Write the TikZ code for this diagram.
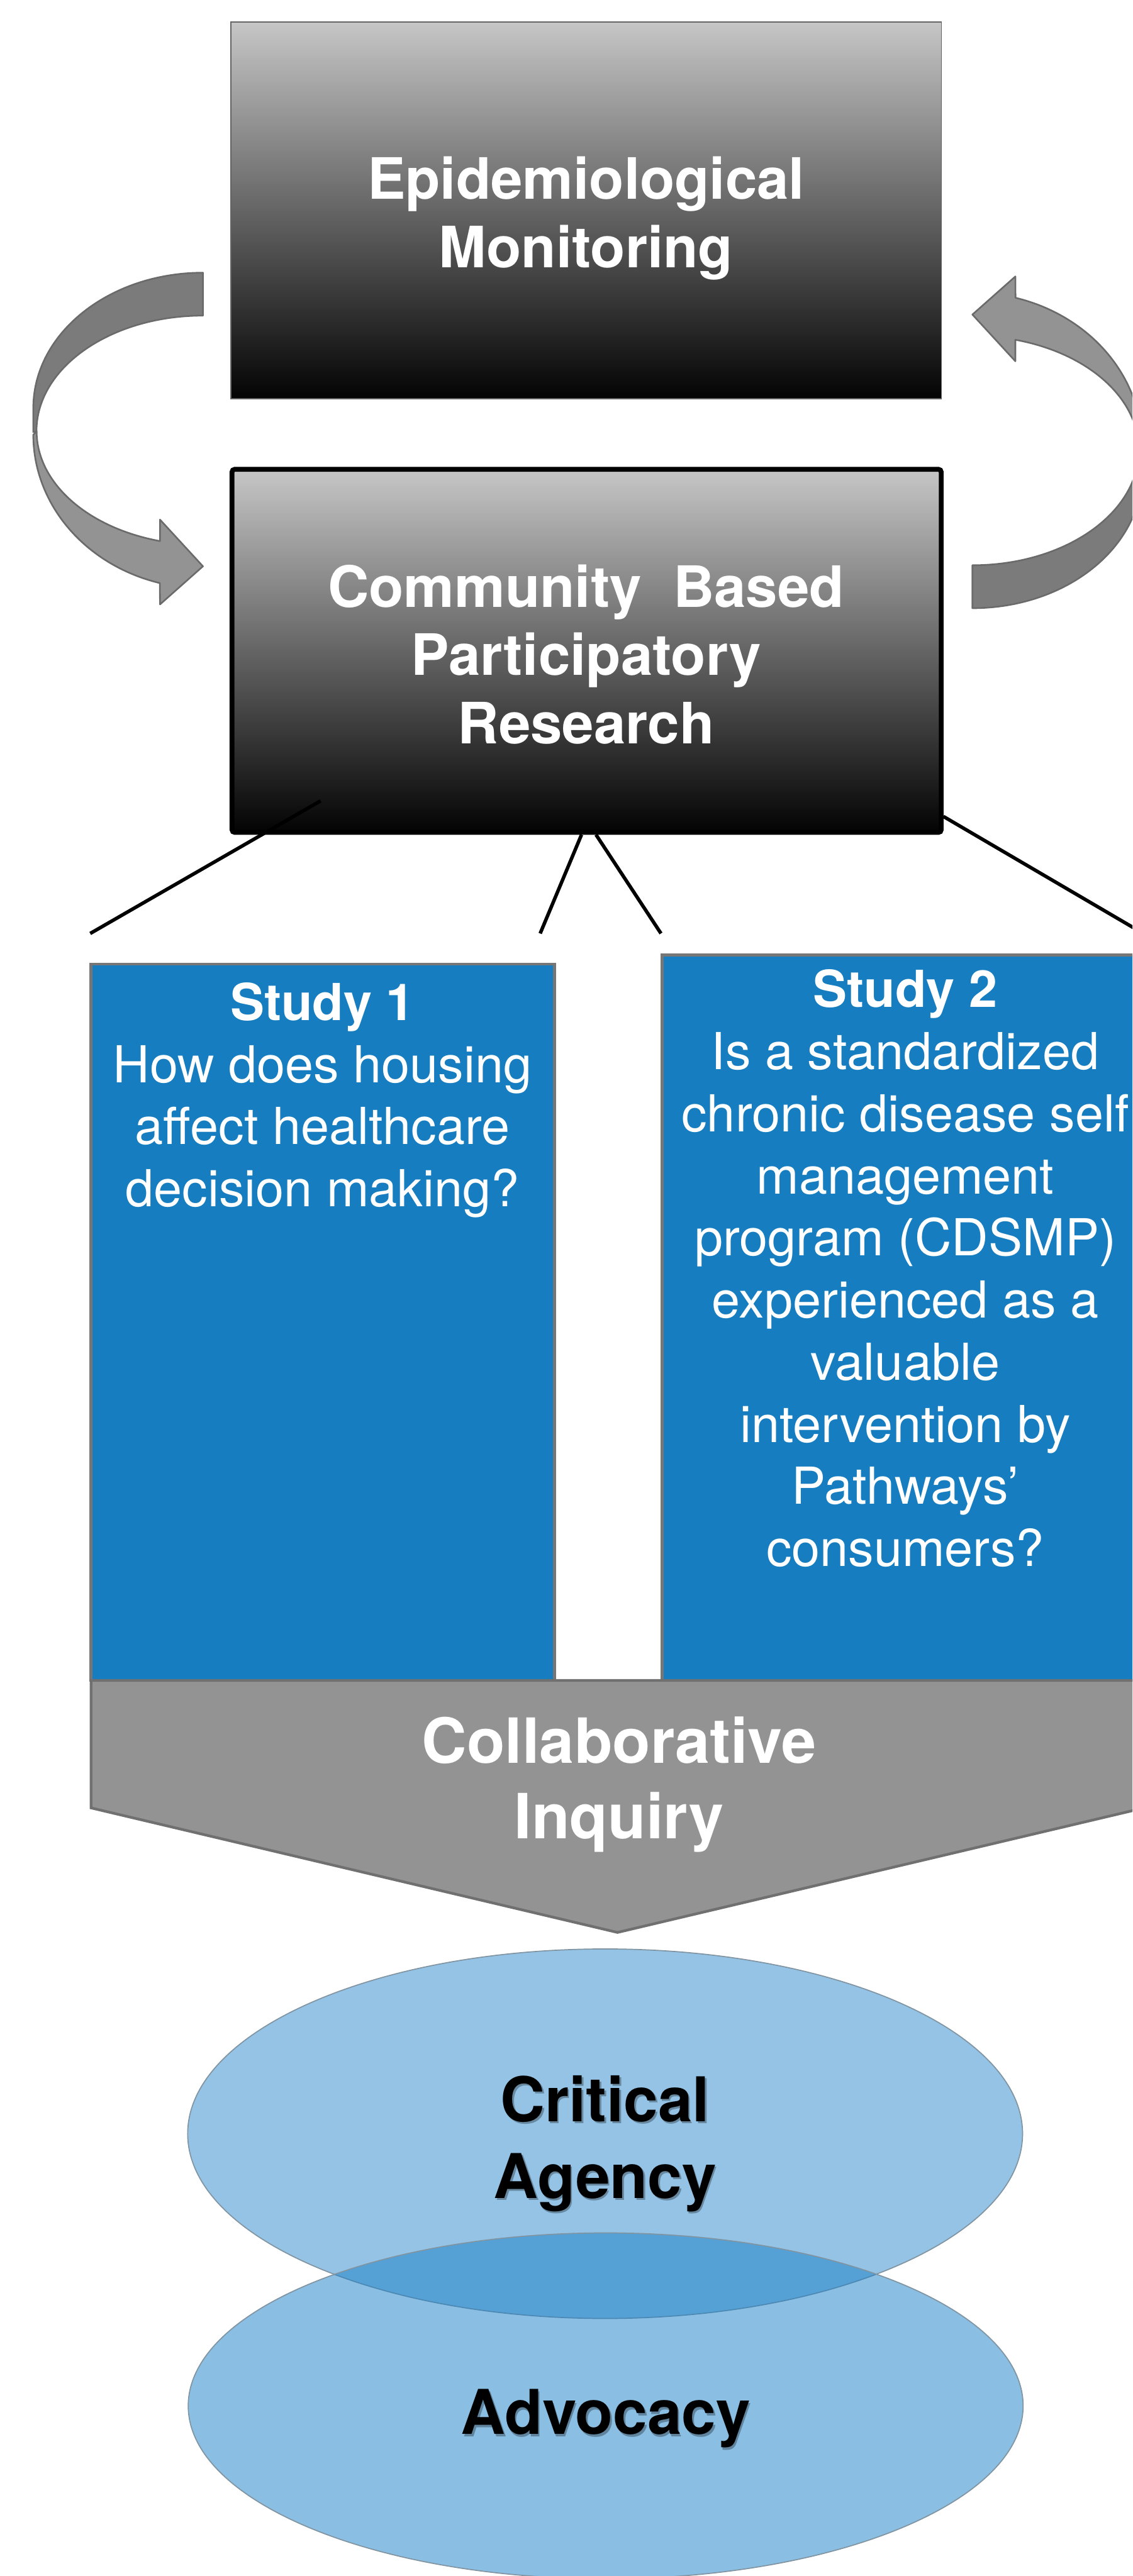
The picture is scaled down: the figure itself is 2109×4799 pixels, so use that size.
\documentclass[tikz,border=0pt]{standalone}
\usepackage{fontspec}
\setmainfont{TeX Gyre Heros}
\usetikzlibrary{shapes.geometric}

\definecolor{boxtop}{RGB}{198,198,198}
\definecolor{boxbot}{RGB}{3,3,3}
\definecolor{boxedge}{RGB}{100,100,100}
\definecolor{studyblue}{RGB}{22,126,192}
\definecolor{studyedge}{RGB}{118,118,118}
\definecolor{chevfill}{RGB}{147,147,147}
\definecolor{chevedge}{RGB}{112,112,112}
\definecolor{arrowdark}{RGB}{123,123,123}
\definecolor{arrowlight}{RGB}{147,147,147}
\definecolor{arrowedge}{RGB}{106,106,106}
\definecolor{ovaltop}{RGB}{43,137,205}
\definecolor{ovalbot}{RGB}{23,127,199}
\definecolor{ovaledge}{RGB}{128,148,162}

\begin{document}
\begin{tikzpicture}[x=0.01cm, y=-0.01cm,
  epibox/.style={draw=boxedge, line width=0.02cm, top color=boxtop, bottom color=boxbot, inner sep=0},
  cbprbox/.style={draw=black, line width=0.09cm, rounded corners=0.05cm, top color=boxtop, bottom color=boxbot, inner sep=0},
  studybox/.style={fill=studyblue, draw=studyedge, line width=0.05cm, inner sep=0},
  chevron/.style={fill=chevfill, draw=chevedge, line width=0.05cm, line join=miter},
  fork/.style={draw=black, line width=0.065cm},
  oval/.style={ellipse, draw=ovaledge, line width=0.02cm, inner sep=0},
  banddark/.style={fill=arrowdark, draw=arrowedge, line width=0.03cm, line join=round},
  bandlight/.style={fill=arrowlight, draw=arrowedge, line width=0.03cm, line join=round},
  titletext/.style={text=white, font=\fontsize{30.2pt}{36.1pt}\selectfont\bfseries, align=center, anchor=base, inner sep=0},
  studytext/.style={text=white, font=\fontsize{27pt}{32.9pt}\selectfont, align=center, anchor=base, inner sep=0},
  chevtext/.style={text=white, font=\fontsize{33pt}{39.8pt}\selectfont\bfseries, align=center, anchor=base, inner sep=0},
  ovaltext/.style={text=black, font=\fontsize{32.7pt}{40.7pt}\selectfont\bfseries, align=center, anchor=base, inner sep=0},
  ovalshadow/.style={ovaltext, text=black, text opacity=0.3}
]
\useasboundingbox (0,0) rectangle (2109,4799);
\fill[white] (0,0) rectangle (2109,4799);
\clip (0,0) rectangle (2109,4799);

% curved arrow on the left: back band, then front band with head
\draw[banddark] (378,508) arc[start angle=270, end angle=180, x radius=316, y radius=252]
  -- (62,805) -- (68,803) arc[start angle=180, end angle=270, x radius=310, y radius=215] -- cycle;
\draw[bandlight] (62,810) arc[start angle=180, end angle=105, x radius=318, y radius=286]
  -- (298,1126) -- (378,1055) -- (298,968) -- (298,1008)
  arc[start angle=105, end angle=180, x radius=310, y radius=212] -- cycle;

% the same arrow turned half way round on the right
\begin{scope}[rotate around={180:(1094.5,820.5)}]
\draw[banddark] (378,508) arc[start angle=270, end angle=180, x radius=316, y radius=252]
  -- (62,805) -- (68,803) arc[start angle=180, end angle=270, x radius=310, y radius=215] -- cycle;
\draw[bandlight] (62,810) arc[start angle=180, end angle=105, x radius=318, y radius=286]
  -- (298,1126) -- (378,1055) -- (298,968) -- (298,1008)
  arc[start angle=105, end angle=180, x radius=310, y radius=212] -- cycle;
\end{scope}

% gradient boxes
\node[epibox, minimum width=13.23cm, minimum height=7.02cm] (epi) at (1091.5,392) {};
\node[cbprbox, minimum width=13.20cm, minimum height=6.76cm] (cbpr) at (1092.5,1212.5) {};

% fork lines from the research box
\coordinate (f1a) at (597,1492);   \coordinate (f1b) at (168,1739);
\coordinate (f2a) at (1083,1555);  \coordinate (f2b) at (1006,1739);
\coordinate (f3a) at (1110,1555);  \coordinate (f3b) at (1231,1739);
\coordinate (f4a) at (1757,1521);  \coordinate (f4b) at (2131,1740);
\draw[fork] (f1a) -- (f1b);
\draw[fork] (f2a) -- (f2b);
\draw[fork] (f3a) -- (f3b);
\draw[fork] (f4a) -- (f4b);

% study columns
\node[studybox, minimum width=8.63cm, minimum height=13.335cm] (study1) at (601,2463.25) {};
\node[studybox, minimum width=9.07cm, minimum height=13.505cm] (study2) at (1687,2454.75) {};

% chevron
\draw[chevron] (169.5,3130.5) -- (2131,3130.5) -- (2131,3368) -- (1150,3600) -- (169.5,3368) -- cycle;

% ovals
\node[oval, fill=ovaltop, fill opacity=0.5, minimum width=15.54cm, minimum height=6.88cm] (agency) at (1127,3975) {};
\node[oval, fill=ovalbot, fill opacity=0.5, minimum width=15.54cm, minimum height=6.44cm] (advocacy) at (1128,4482) {};

% labels (anchored at the baseline of their last line)
\node[titletext] (epilabel) at (1091.5,498) {Epidemiological\\Monitoring};
\node[titletext] (cbprlabel) at (1091.5,1385) {Community\ \ Based\\Participatory\\Research};
\node[studytext] (s1label) at (600.5,2248) {\textbf{Study 1}\\How does housing\\affect healthcare\\decision making?};
\node[studytext] (s2label) at (1686,2918) {\textbf{Study 2}\\Is a standardized\\chronic disease self\\management\\program (CDSMP)\\experienced as a\\valuable\\intervention by\\Pathways’\\consumers?};
\node[chevtext] (cilabel) at (1153,3425) {Collaborative\\Inquiry};
\node[ovalshadow] (agencyshadow) at (1130,4099) {Critical\\Agency};
\node[ovaltext] (agencylabel) at (1127,4095) {Critical\\Agency};
\node[ovalshadow] (advshadow) at (1131,4539) {Advocacy};
\node[ovaltext] (advlabel) at (1128,4535) {Advocacy};
\end{tikzpicture}
\end{document}
